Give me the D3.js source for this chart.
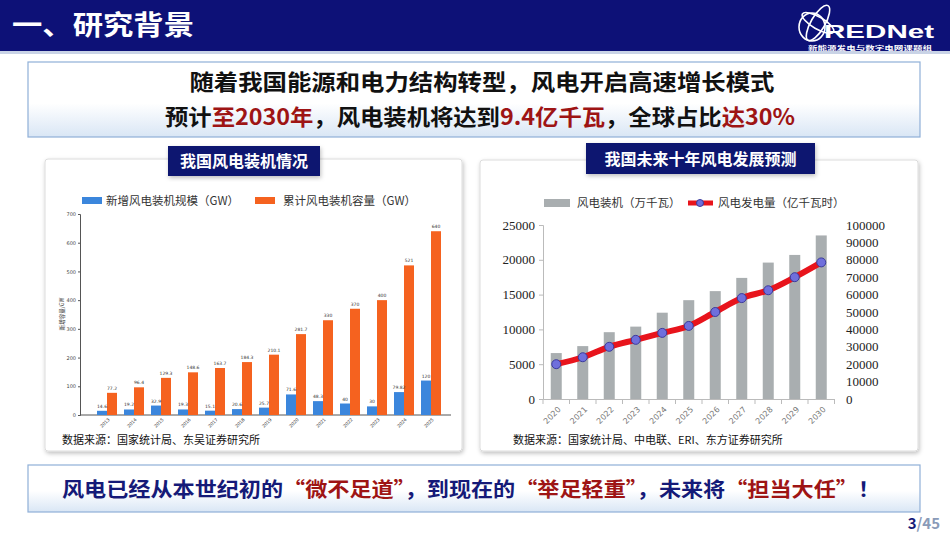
<!DOCTYPE html>
<html><head><meta charset="utf-8">
<script src="https://cdn.jsdelivr.net/npm/d3@7"></script>
<style>
html,body{margin:0;padding:0;background:#fff;}
svg{display:block;font-family:"Noto Sans CJK SC","Noto Sans",sans-serif;}
</style></head>
<body>
<svg id="c" width="950" height="534"></svg>
<script>
// ---- Data ----
const yearsL = ["2013","2014","2015","2016","2017","2018","2019","2020","2021","2022","2023","2024","2025"];
const newCap = [14.6,19.2,32.9,19.3,15.1,20.6,25.7,71.6,48.3,40,30,79.82,120];
const newCapLabels = ["14.6","19.2","32.9","19.3","15.1","20.6","25.7","71.6","48.3","40","30","79.82","120"];
const cumCap = [77.2,96.4,129.3,148.6,163.7,184.3,210.1,281.7,330,370,400,521,640];
const cumCapLabels = ["77.2","96.4","129.3","148.6","163.7","184.3","210.1","281.7","330","370","400","521","640"];
const ticksL = [0,100,200,300,400,500,600,700];

const yearsR = ["2020","2021","2022","2023","2024","2025","2026","2027","2028","2029","2030"];
const installR = [6600,7600,9600,10400,12400,14200,15500,17400,19600,20700,23500];
const genR = [20000,24000,30000,34000,38000,42000,50000,58000,62500,70000,78500];
const ticksRL = [0,5000,10000,15000,20000,25000];
const ticksRR = [0,10000,20000,30000,40000,50000,60000,70000,80000,90000,100000];

const svg = d3.select("#c");
const defs = svg.append("defs");
const sh = defs.append("filter").attr("id","sh").attr("x","-10%").attr("y","-10%").attr("width","120%").attr("height","130%");
sh.append("feDropShadow").attr("dx",1).attr("dy",2).attr("stdDeviation",2).attr("flood-color","#000").attr("flood-opacity",0.25);
const gBox = defs.append("linearGradient").attr("id","gbox").attr("x1",0).attr("y1",0).attr("x2",0).attr("y2",1);
gBox.append("stop").attr("offset","0%").attr("stop-color","#ffffff");
gBox.append("stop").attr("offset","55%").attr("stop-color","#ffffff");
gBox.append("stop").attr("offset","100%").attr("stop-color","#d9e6f5");

// ---- Header ----
svg.append("rect").attr("x",0).attr("y",0).attr("width",950).attr("height",51).attr("fill","#0d1177");
svg.append("rect").attr("x",0).attr("y",51).attr("width",950).attr("height",3).attr("fill","#c9d3e6");
svg.append("text").attr("x",12).attr("y",35).attr("fill","#fff").attr("font-size",27).attr("font-weight",700)
  .attr("textLength",182).attr("lengthAdjust","spacingAndGlyphs").text("一、研究背景");
// logo
const lg = svg.append("g").attr("fill","none").attr("stroke","#fff").attr("stroke-width",1.6);
lg.append("ellipse").attr("cx",818).attr("cy",23).attr("rx",20).attr("ry",7).attr("transform","rotate(-60 818 23)");
lg.append("ellipse").attr("cx",818).attr("cy",23).attr("rx",18).attr("ry",6).attr("transform","rotate(30 818 23)");
lg.append("ellipse").attr("cx",812).attr("cy",27).attr("rx",13).attr("ry",14);
svg.append("text").attr("x",824).attr("y",38).attr("fill","#fff").attr("font-size",18).attr("font-weight",700)
  .attr("font-family","Liberation Sans, Arial").attr("textLength",110).attr("lengthAdjust","spacingAndGlyphs").text("REDNet");
svg.append("text").attr("x",808).attr("y",50).attr("fill","#fff").attr("font-size",5.5).attr("font-weight",700)
  .attr("textLength",124).attr("lengthAdjust","spacingAndGlyphs").text("新能源发电与数字电网课题组");

// ---- Top message box ----
svg.append("rect").attr("x",28).attr("y",62).attr("width",892).attr("height",75).attr("fill","url(#gbox)")
  .attr("stroke","#8fb0d8").attr("stroke-width",1.2);
svg.append("text").attr("x",482).attr("y",90).attr("text-anchor","middle").attr("font-size",22).attr("font-weight",700)
  .attr("fill","#111").attr("textLength",585).attr("lengthAdjust","spacingAndGlyphs").text("随着我国能源和电力结构转型，风电开启高速增长模式");
const t2 = svg.append("text").attr("x",480).attr("y",125).attr("text-anchor","middle").attr("font-size",22).attr("font-weight",700)
  .attr("fill","#111").attr("textLength",630).attr("lengthAdjust","spacingAndGlyphs");
[["预计","#111"],["至2030年","#9e1414"],["，风电装机将达到","#111"],["9.4亿千瓦","#9e1414"],["，全球占比","#111"],["达30%","#9e1414"]]
  .forEach(d=>t2.append("tspan").attr("fill",d[1]).text(d[0]));

// ---- Panels ----
function panel(x,y,w,h){
  svg.append("rect").attr("x",x).attr("y",y).attr("width",w).attr("height",h).attr("rx",3)
    .attr("fill","#fff").attr("stroke","#dcdcdc").attr("filter","url(#sh)");
}
panel(45,159,417,292);
panel(480,160,438,291);
function titleBox(x,y,w,h,txt){
  svg.append("rect").attr("x",x).attr("y",y).attr("width",w).attr("height",h).attr("fill","#0e1870").attr("filter","url(#sh)");
  svg.append("text").attr("x",x+w/2).attr("y",y+h/2+6).attr("text-anchor","middle").attr("fill","#fff")
    .attr("font-size",16).attr("font-weight",700).text(txt);
}
titleBox(168,146,152,30,"我国风电装机情况");
titleBox(586,143,229,31,"我国未来十年风电发展预测");

// ---- Left chart ----
const blue = "#3b86dc", orange = "#f5621f";
const xL = d3.scaleBand().domain(yearsL).range([93.5,444.5]).paddingInner(0).paddingOuter(0);
const xLs = d3.scaleBand().domain(["n","c"]).range([0,20]).padding(0);
const yL = d3.scaleLinear().domain([0,700]).range([415,214]);
const gl = svg.append("g");
gl.append("g").attr("transform","translate(80,0)")
  .call(d3.axisLeft(yL).tickValues(ticksL).tickSize(2).tickPadding(2))
  .call(g=>{g.select(".domain").attr("stroke","#555");g.selectAll(".tick line").attr("stroke","#555");
    g.selectAll("text").attr("font-size",5).attr("fill","#444").attr("font-family","DejaVu Sans");});
gl.append("line").attr("x1",80).attr("x2",451).attr("y1",415).attr("y2",415).attr("stroke","#555");
gl.append("text").attr("transform","translate(64,314) rotate(-90)").attr("text-anchor","middle")
  .attr("font-size",5.5).attr("fill","#444").text("新增容量/GW");
const bw = 10;
const grp = gl.selectAll(".grp").data(yearsL).enter().append("g")
  .attr("transform",d=>`translate(${xL(d)+xL.bandwidth()/2-10},0)`);
grp.append("rect").attr("x",xLs("n")).attr("width",bw).attr("y",(d,i)=>yL(newCap[i])).attr("height",(d,i)=>yL(0)-yL(newCap[i])).attr("fill",blue);
grp.append("rect").attr("x",xLs("c")).attr("width",bw).attr("y",(d,i)=>yL(cumCap[i])).attr("height",(d,i)=>yL(0)-yL(cumCap[i])).attr("fill",orange);
grp.append("text").attr("x",xLs("n")+bw/2).attr("y",(d,i)=>yL(newCap[i])-3).attr("text-anchor","middle")
  .attr("font-size",4.5).attr("fill","#333").attr("font-family","DejaVu Sans").text((d,i)=>newCapLabels[i]);
grp.append("text").attr("x",xLs("c")+bw/2).attr("y",(d,i)=>yL(cumCap[i])-3).attr("text-anchor","middle")
  .attr("font-size",4.5).attr("fill","#333").attr("font-family","DejaVu Sans").text((d,i)=>cumCapLabels[i]);
grp.append("text").attr("transform","translate(13,420) rotate(-45)").attr("text-anchor","end")
  .attr("font-size",4.5).attr("fill","#333").attr("font-family","DejaVu Sans").text(d=>d);
// legend
gl.append("rect").attr("x",82).attr("y",197).attr("width",20).attr("height",7).attr("fill",blue);
gl.append("text").attr("x",106).attr("y",205).attr("font-size",11.5).attr("fill","#333").text("新增风电装机规模（GW）");
gl.append("rect").attr("x",255).attr("y",197).attr("width",20).attr("height",7).attr("fill",orange);
gl.append("text").attr("x",283).attr("y",205).attr("font-size",11.5).attr("fill","#333").text("累计风电装机容量（GW）");
gl.append("text").attr("x",62).attr("y",444).attr("font-size",11).attr("fill","#111").text("数据来源：国家统计局、东吴证券研究所");

// ---- Right chart ----
const gray = "#a9aeb0";
const fmt = d3.format("d");
const xR = d3.scaleBand().domain(yearsR).range([543,834.5]);
const yR = d3.scaleLinear().domain([0,25000]).range([399,225]);
const yR2 = d3.scaleLinear().domain([0,100000]).range([399,225]);
const gr = svg.append("g");
gr.append("g").attr("transform","translate(543,0)")
  .call(d3.axisLeft(yR).tickValues(ticksRL).tickFormat(fmt).tickSize(4).tickPadding(4))
  .call(g=>{g.select(".domain").attr("stroke","#bbb");g.selectAll(".tick line").attr("stroke","#bbb");
    g.selectAll("text").attr("font-size",13).attr("fill","#222").attr("font-family","Liberation Serif");});
gr.append("g").attr("transform","translate(840,0)")
  .call(d3.axisRight(yR2).tickValues(ticksRR).tickFormat(fmt).tickSize(0).tickPadding(6))
  .call(g=>{g.select(".domain").remove();
    g.selectAll("text").attr("font-size",13).attr("fill","#222").attr("font-family","Liberation Serif");});
gr.append("g").attr("transform","translate(0,399)")
  .call(d3.axisBottom(xR).tickSize(0).tickFormat(""))
  .call(g=>{g.select(".domain").attr("stroke","#bbb");});
gr.selectAll(".xt").data(d3.range(yearsR.length+1)).enter().append("line")
  .attr("x1",i=>543+i*xR.step()).attr("x2",i=>543+i*xR.step()).attr("y1",399).attr("y2",404).attr("stroke","#bbb");
gr.selectAll(".bar").data(yearsR).enter().append("rect")
  .attr("x",d=>xR(d)+xR.bandwidth()/2-5.5).attr("width",11)
  .attr("y",(d,i)=>yR(installR[i])).attr("height",(d,i)=>yR(0)-yR(installR[i])).attr("fill",gray);
gr.selectAll(".xl").data(yearsR).enter().append("text")
  .attr("transform",d=>`translate(${xR(d)+xR.bandwidth()/2+5},410) rotate(-45)`).attr("text-anchor","end")
  .attr("font-size",8).attr("fill","#777").attr("font-family","DejaVu Sans").text(d=>d);
const line = d3.line().x((d,i)=>xR(yearsR[i])+xR.bandwidth()/2).y(d=>yR2(d)).curve(d3.curveMonotoneX);
gr.append("path").datum(genR).attr("d",line).attr("fill","none").attr("stroke","#e8141c").attr("stroke-width",6).attr("stroke-linecap","round");
gr.selectAll(".pt").data(genR).enter().append("circle")
  .attr("cx",(d,i)=>xR(yearsR[i])+xR.bandwidth()/2).attr("cy",d=>yR2(d)).attr("r",4.5)
  .attr("fill","#6f6fdc").attr("stroke","#3b3b9c").attr("stroke-width",1);
// legend
gr.append("rect").attr("x",544).attr("y",199).attr("width",26).attr("height",8).attr("fill",gray);
gr.append("text").attr("x",577).attr("y",207).attr("font-size",11.5).attr("fill","#333").text("风电装机（万千瓦）");
gr.append("line").attr("x1",688).attr("x2",713).attr("y1",203).attr("y2",203).attr("stroke","#e8141c").attr("stroke-width",5);
gr.append("circle").attr("cx",700).attr("cy",203).attr("r",3.5).attr("fill","#6f6fdc").attr("stroke","#3b3b9c");
gr.append("text").attr("x",718).attr("y",207).attr("font-size",11.5).attr("fill","#333").text("风电发电量（亿千瓦时）");
gr.append("text").attr("x",513).attr("y",444).attr("font-size",11).attr("fill","#111").text("数据来源：国家统计局、中电联、ERI、东方证券研究所");

// ---- Bottom box ----
svg.append("rect").attr("x",28).attr("y",465).attr("width",892).attr("height",47).attr("fill","url(#gbox)")
  .attr("stroke","#8fb0d8").attr("stroke-width",1.2);
const tb = svg.append("text").attr("x",471).attr("y",497).attr("text-anchor","middle").attr("font-size",20).attr("font-weight",700)
  .attr("textLength",818).attr("lengthAdjust","spacingAndGlyphs");
[["风电已经从本世纪初的","#151a78"],["“微不足道”","#9e1414"],["，到现在的","#151a78"],["“举足轻重”","#9e1414"],["，未来将","#151a78"],["“担当大任”","#9e1414"],["！","#151a78"]]
  .forEach(d=>tb.append("tspan").attr("fill",d[1]).text(d[0]));
const pg = svg.append("text").attr("x",940).attr("y",529).attr("text-anchor","end").attr("font-size",15).attr("font-weight",700);
pg.append("tspan").attr("fill","#151a78").text("3");
pg.append("tspan").attr("fill","#8a9bb8").text("/45");
</script>
</body></html>
